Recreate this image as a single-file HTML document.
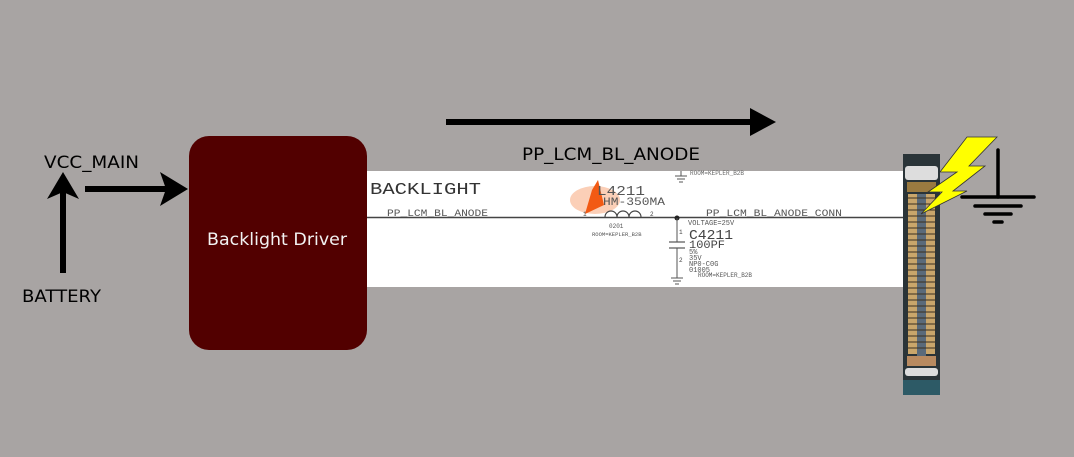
<!DOCTYPE html>
<html><head><meta charset="utf-8"><style>
html,body{margin:0;padding:0;background:#a8a4a3;}
svg{display:block}
</style></head><body>
<svg width="1074" height="457" viewBox="0 0 1074 457" xmlns="http://www.w3.org/2000/svg">
<rect width="1074" height="457" fill="#a8a4a3"/>
<!-- schematic panel -->
<rect x="367" y="171" width="537" height="116" fill="#ffffff"/>
<line x1="367" y1="217.5" x2="904" y2="217.5" stroke="#444" stroke-width="1.5"/>
<text x="370" y="194" font-family="Liberation Mono, monospace" font-size="17" fill="#333" textLength="111" lengthAdjust="spacingAndGlyphs">BACKLIGHT</text>
<text x="387" y="216" font-family="Liberation Mono, monospace" font-size="10" fill="#555" textLength="101" lengthAdjust="spacingAndGlyphs">PP_LCM_BL_ANODE</text>
<text x="706" y="216" font-family="Liberation Mono, monospace" font-size="10" fill="#555" textLength="136" lengthAdjust="spacingAndGlyphs">PP_LCM_BL_ANODE_CONN</text>
<ellipse cx="595" cy="200" rx="25" ry="14" fill="#f7a070" opacity="0.5"/>
<path d="M585 214 L592 190 L598 180 L604 205 Z" fill="#f25a14"/>
<text x="597" y="195" font-family="Liberation Mono, monospace" font-size="14" fill="#555" textLength="48" lengthAdjust="spacingAndGlyphs">L4211</text>
<text x="603" y="205" font-family="Liberation Mono, monospace" font-size="11" fill="#555" textLength="62" lengthAdjust="spacingAndGlyphs">HM-350MA</text>
<path d="M605 217 a6 6 0 0 1 12 0 a6 6 0 0 1 12 0 a6 6 0 0 1 12 0" fill="none" stroke="#444" stroke-width="1.2"/>
<text x="583" y="216" font-size="6" font-family="Liberation Mono, monospace" fill="#444">1</text>
<text x="650" y="216" font-size="6" font-family="Liberation Mono, monospace" fill="#444">2</text>
<text x="609" y="228" font-size="6" font-family="Liberation Mono, monospace" fill="#555">0201</text>
<text x="592" y="236" font-size="5.5" font-family="Liberation Mono, monospace" fill="#555">ROOM=KEPLER_B2B</text>
<circle cx="677" cy="218" r="2.5" fill="#222"/>
<line x1="677" y1="218" x2="677" y2="242" stroke="#555"/>
<line x1="669" y1="242" x2="685" y2="242" stroke="#555" stroke-width="1.2"/>
<line x1="669" y1="248" x2="685" y2="248" stroke="#555" stroke-width="1.2"/>
<line x1="677" y1="248" x2="677" y2="278" stroke="#555"/>
<line x1="671" y1="278" x2="683" y2="278" stroke="#555"/><line x1="673" y1="281" x2="681" y2="281" stroke="#555"/><line x1="675" y1="284" x2="679" y2="284" stroke="#555"/>
<line x1="681" y1="171" x2="681" y2="176" stroke="#555"/>
<line x1="675" y1="176" x2="687" y2="176" stroke="#555"/><line x1="677" y1="179" x2="685" y2="179" stroke="#555"/><line x1="679" y1="182" x2="683" y2="182" stroke="#555"/>
<text x="690" y="175" font-size="6" font-family="Liberation Mono, monospace" fill="#666">ROOM=KEPLER_B2B</text>
<text x="688" y="225" font-size="7" font-family="Liberation Mono, monospace" fill="#555">VOLTAGE=25V</text>
<text x="679" y="234" font-size="6" font-family="Liberation Mono, monospace" fill="#444">1</text>
<text x="679" y="262" font-size="6" font-family="Liberation Mono, monospace" fill="#444">2</text>
<text x="689" y="239" font-size="14" font-family="Liberation Mono, monospace" fill="#444" textLength="44" lengthAdjust="spacingAndGlyphs">C4211</text>
<text x="689" y="248" font-size="11" font-family="Liberation Mono, monospace" fill="#444" textLength="36" lengthAdjust="spacingAndGlyphs">100PF</text>
<text x="689" y="254" font-size="7" font-family="Liberation Mono, monospace" fill="#555">5%</text>
<text x="689" y="260" font-size="7" font-family="Liberation Mono, monospace" fill="#555">35V</text>
<text x="689" y="266" font-size="7" font-family="Liberation Mono, monospace" fill="#555">NP0-C0G</text>
<text x="689" y="272" font-size="7" font-family="Liberation Mono, monospace" fill="#555">01005</text>
<text x="698" y="277" font-size="6" font-family="Liberation Mono, monospace" fill="#555">ROOM=KEPLER_B2B</text>
<!-- driver box -->
<rect x="189" y="136" width="178" height="214" rx="20" fill="#520000"/>
<text x="207" y="245" font-family="DejaVu Sans, sans-serif" font-size="17" fill="#f2f2f2" textLength="140" lengthAdjust="spacingAndGlyphs">Backlight Driver</text>
<!-- left arrows -->
<line x1="63" y1="273" x2="63" y2="190" stroke="#000" stroke-width="6"/>
<path d="M63 172 L47 199 L63 192 L79 199 Z" fill="#000"/>
<line x1="85" y1="189" x2="170" y2="189" stroke="#000" stroke-width="6"/>
<path d="M188 189 L160 172 L166 189 L160 206 Z" fill="#000"/>
<text x="44" y="168" font-family="DejaVu Sans, sans-serif" font-size="17" fill="#000" textLength="95" lengthAdjust="spacingAndGlyphs">VCC_MAIN</text>
<text x="22" y="302" font-family="DejaVu Sans, sans-serif" font-size="17" fill="#000" textLength="79" lengthAdjust="spacingAndGlyphs">BATTERY</text>
<!-- top arrow -->
<line x1="446" y1="122" x2="752" y2="122" stroke="#000" stroke-width="6"/>
<path d="M776 122 L750 108 L750 136 Z" fill="#000"/>
<text x="522" y="160" font-family="DejaVu Sans, sans-serif" font-size="17" fill="#000" textLength="178" lengthAdjust="spacingAndGlyphs">PP_LCM_BL_ANODE</text>
<!-- connector -->
<rect x="903" y="154" width="37" height="241" fill="#2a3438"/>
<rect x="905" y="166" width="33" height="14" rx="3" fill="#ddd"/>
<rect x="907" y="182" width="29" height="10" fill="#9a7a40"/>
<g fill="#c9a66b">
<rect x="908" y="194" width="9" height="160"/>
<rect x="926" y="194" width="9" height="160"/>
</g>
<rect x="917" y="194" width="9" height="162" fill="#5a6a7a"/>
<g stroke="#3a3020" stroke-width="1">
<path d="M907 198H936M907 204H936M907 210H936M907 216H936M907 222H936M907 228H936M907 234H936M907 240H936M907 246H936M907 252H936M907 258H936M907 264H936M907 270H936M907 276H936M907 282H936M907 288H936M907 294H936M907 300H936M907 306H936M907 312H936M907 318H936M907 324H936M907 330H936M907 336H936M907 342H936M907 348H936"/>
</g>
<rect x="907" y="356" width="29" height="10" fill="#b88a60"/>
<rect x="905" y="368" width="33" height="8" rx="3" fill="#ddd"/>
<rect x="903" y="380" width="37" height="15" fill="#2d5a66"/>
<!-- lightning -->
<path d="M997 137 L967 137 L940 172 L957 172 L928 192 L942 192 L921 214 L967 191 L953 191 L985 166 L969 166 Z" fill="#ffff00" stroke="#333" stroke-width="0.8"/>
<!-- ground -->
<g stroke="#000" stroke-width="3.5" stroke-linecap="round">
<line x1="998" y1="150" x2="998" y2="197"/>
<line x1="962" y1="197" x2="1034" y2="197"/>
<line x1="975" y1="206" x2="1021" y2="206"/>
<line x1="985" y1="214" x2="1011" y2="214"/>
<line x1="994" y1="222" x2="1002" y2="222"/>
</g>
</svg>
</body></html>
